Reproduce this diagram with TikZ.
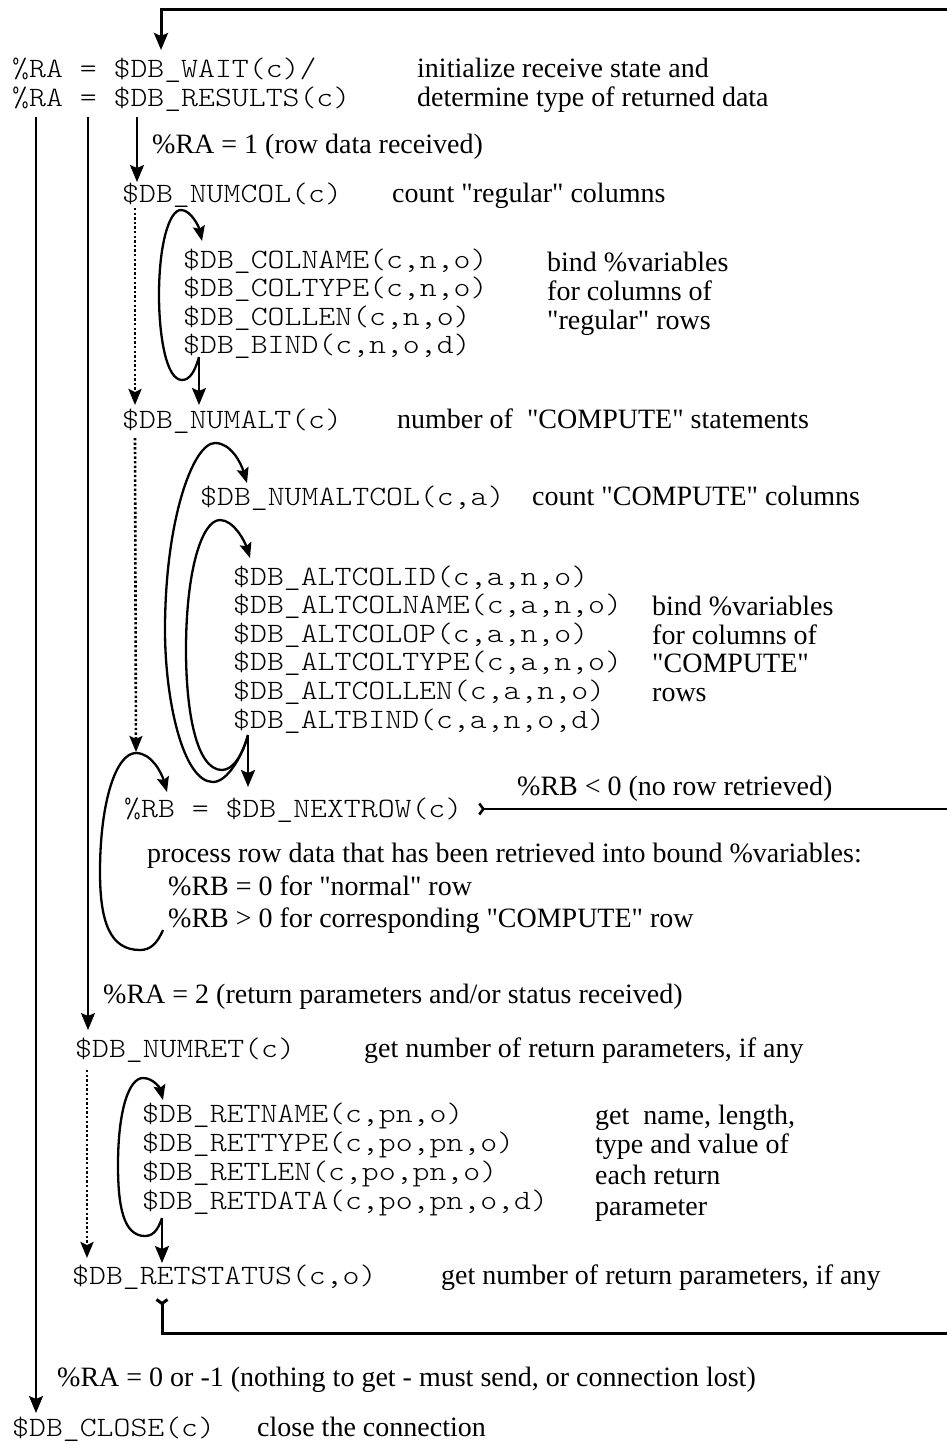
\documentclass[tikz,border=0pt]{standalone}
\usepackage{fontspec}
\newfontfamily\serif{Liberation Serif}
\newfontfamily\monof{lmmonolt10-regular.otf}[FakeStretch=1.15]
\usetikzlibrary{arrows.meta}
\tikzset{
  txt/.style={anchor=base west, inner sep=0pt, font=\serif\fontsize{28}{28}\selectfont},
  code/.style={anchor=base west, inner sep=0pt, font=\monof\fontsize{28}{28}\selectfont},
  flow/.style={line width=2.4pt, -{Stealth[length=17pt,width=14pt,inset=3pt]}},
  lp/.style={line width=2.3pt, -{Stealth[length=15pt,width=12pt,inset=2.5pt]}},
  dots/.style={line width=2.6pt, dash pattern=on 2.4pt off 2.2pt, -{Stealth[length=16pt,width=13pt,inset=3pt]}},
  ret/.style={line width=3pt},
  tail/.style={{Straight Barb[reversed,length=4pt,width=11pt]}-},
}
\begin{document}
\begin{tikzpicture}[x=1pt,y=-1pt]
\path[use as bounding box] (0,0) rectangle (947,1446);

% ---- text nodes
\node[code] (ra1) at (12,77) {\%RA = \$DB\_WAIT(c)/};
\node[code] (ra2) at (12,106) {\%RA = \$DB\_RESULTS(c)};
\node[txt] (d1) at (417,77) {initialize receive state and};
\node[txt] (d2) at (417,106) {determine type of returned data};
\node[txt] (l1) at (152,153) {\%RA = 1 (row data received)};

\node[code] (numcol) at (122,202) {\$DB\_NUMCOL(c)};
\node[txt] (numcold) at (392,202) {count "regular" columns};
\node[code] (colname) at (183,268) {\$DB\_COLNAME(c,n,o)};
\node[code] (coltype) at (183,296) {\$DB\_COLTYPE(c,n,o)};
\node[code] (collen) at (183,325) {\$DB\_COLLEN(c,n,o)};
\node[code] (bind) at (183,353) {\$DB\_BIND(c,n,o,d)};
\node[txt] (cd1) at (547,271) {bind \%variables};
\node[txt] (cd2) at (547,300) {for columns of};
\node[txt] (cd3) at (547,329) {"regular" rows};

\node[code] (numalt) at (122,428) {\$DB\_NUMALT(c)};
\node[txt] (numaltd) at (397,428) {number of\ \ "COMPUTE" statements};
\node[code] (numaltcol) at (200,505) {\$DB\_NUMALTCOL(c,a)};
\node[txt] (numaltcold) at (532,505) {count "COMPUTE" columns};

\node[code] (altid) at (233,585) {\$DB\_ALTCOLID(c,a,n,o)};
\node[code] (altname) at (233,613.6) {\$DB\_ALTCOLNAME(c,a,n,o)};
\node[code] (altop) at (233,642.2) {\$DB\_ALTCOLOP(c,a,n,o)};
\node[code] (alttype) at (233,670.8) {\$DB\_ALTCOLTYPE(c,a,n,o)};
\node[code] (altlen) at (233,699.4) {\$DB\_ALTCOLLEN(c,a,n,o)};
\node[code] (altbind) at (233,728) {\$DB\_ALTBIND(c,a,n,o,d)};
\node[txt] (ad1) at (652,615) {bind \%variables};
\node[txt] (ad2) at (652,644) {for columns of};
\node[txt] (ad3) at (652,672) {"COMPUTE"};
\node[txt] (ad4) at (652,701) {rows};

\node[code] (nextrow) at (124,817) {\%RB = \$DB\_NEXTROW(c)};
\node[txt] (nrlab) at (517,795) {\%RB < 0 (no row retrieved)};
\node[txt] (proc1) at (147,862) {process row data that has been retrieved into bound \%variables:};
\node[txt] (proc2) at (168,895) {\%RB = 0 for "normal" row};
\node[txt] (proc3) at (168,927) {\%RB > 0 for corresponding "COMPUTE" row};

\node[txt] (l2) at (103,1003) {\%RA = 2 (return parameters and/or status received)};
\node[code] (numret) at (75,1057) {\$DB\_NUMRET(c)};
\node[txt] (numretd) at (364,1057) {get number of return parameters, if any};
\node[code] (retname) at (142,1122) {\$DB\_RETNAME(c,pn,o)};
\node[code] (rettype) at (142,1151) {\$DB\_RETTYPE(c,po,pn,o)};
\node[code] (retlen) at (142,1180) {\$DB\_RETLEN(c,po,pn,o)};
\node[code] (retdata) at (142,1209) {\$DB\_RETDATA(c,po,pn,o,d)};
\node[txt] (rd1) at (595,1124) {get\ \ name, length,};
\node[txt] (rd2) at (595,1153) {type and value of};
\node[txt] (rd3) at (595,1184) {each return};
\node[txt] (rd4) at (595,1215) {parameter};

\node[code] (retstatus) at (72,1284) {\$DB\_RETSTATUS(c,o)};
\node[txt] (retstatusd) at (441,1284) {get number of return parameters, if any};
\node[txt] (l3) at (57,1386) {\%RA = 0 or -1 (nothing to get - must send, or connection lost)};
\node[code] (close) at (12,1436) {\$DB\_CLOSE(c)};
\node[txt] (closed) at (257,1436) {close the connection};

% ---- coordinates
\coordinate (topR) at (947,9);
\coordinate (topC) at (161,9);
\coordinate (waitIn) at (161,50);
\coordinate (v1s) at (36,117);   \coordinate (v1e) at (36,1413);
\coordinate (v2s) at (88,117);   \coordinate (v2e) at (88,1030);
\coordinate (v3s) at (137,117);  \coordinate (v3e) at (137,182);
\coordinate (dt1s) at (135,208); \coordinate (dt1e) at (135,405);
\coordinate (dt2s) at (135,438); \coordinate (dt2e) at (136,752);
\coordinate (dt3s) at (87,1070); \coordinate (dt3e) at (87,1258);

% loops
\coordinate (J1) at (199,357); \coordinate (B1) at (182,380); \coordinate (L1) at (159,295);
\coordinate (T1) at (181,210); \coordinate (A1) at (202,241); \coordinate (E1) at (199,405);
\coordinate (J2) at (248,735); \coordinate (B2) at (213,782); \coordinate (L2) at (165,630);
\coordinate (T2) at (215,443); \coordinate (A2) at (247,483); \coordinate (E2) at (248,787);
\coordinate (B3) at (222,770); \coordinate (L3) at (186,650);
\coordinate (T3) at (220,520); \coordinate (A3) at (250,558);
\coordinate (S4) at (163,930); \coordinate (B4) at (140,950); \coordinate (L4) at (100,872);
\coordinate (T4) at (136,753); \coordinate (A4) at (167,792);
\coordinate (J5) at (162,1218); \coordinate (B5) at (145,1236); \coordinate (L5) at (118,1165);
\coordinate (T5) at (143,1078); \coordinate (A5) at (163,1100); \coordinate (E5) at (162,1263);
\coordinate (nrS) at (478,809); \coordinate (nrE) at (947,809);
\coordinate (rsS) at (162,1298); \coordinate (rsC) at (162,1333); \coordinate (rsE) at (947,1333);

% ---- connectors
\draw[ret, -{Stealth[length=17pt,width=14pt,inset=3pt]}] (topR) -- (topC) -- (waitIn);
\draw[flow] (v1s) -- (v1e);
\draw[flow] (v2s) -- (v2e);
\draw[flow] (v3s) -- (v3e);
\draw[dots] (dt1s) -- (dt1e);
\draw[dots] (dt2s) -- (dt2e);
\draw[dots] (dt3s) -- (dt3e);

\draw[lp] (J1) .. controls +(-4,14) and +(8,0) .. (B1)
  .. controls +(-16,0) and +(0,40) .. (L1)
  .. controls +(0,-50) and +(-12,0) .. (T1)
  .. controls +(10,0) and +(-3,-14) .. (A1);
\draw[flow] (J1) -- (E1);

\draw[lp] (J2) .. controls +(-6,22) and +(14,0) .. (B2)
  .. controls +(-30,0) and +(0,70) .. (L2)
  .. controls +(0,-110) and +(-22,0) .. (T2)
  .. controls +(16,0) and +(-6,-20) .. (A2);
\draw[lp] (J2) .. controls +(-5,18) and +(12,0) .. (B3)
  .. controls +(-26,0) and +(0,60) .. (L3)
  .. controls +(0,-80) and +(-18,0) .. (T3)
  .. controls +(14,0) and +(-5,-16) .. (A3);
\draw[flow] (J2) -- (E2);

\draw[lp] (S4) .. controls +(-6,14) and +(10,0) .. (B4)
  .. controls +(-30,0) and +(0,50) .. (L4)
  .. controls +(0,-70) and +(-20,0) .. (T4)
  .. controls +(16,0) and +(-5,-18) .. (A4);

\draw[lp] (J5) .. controls +(-4,12) and +(8,0) .. (B5)
  .. controls +(-22,0) and +(0,40) .. (L5)
  .. controls +(0,-55) and +(-14,0) .. (T5)
  .. controls +(10,0) and +(-3,-12) .. (A5);
\draw[flow] (J5) -- (E5);

\draw[ret, line width=2.6pt, tail] (nrS) -- (nrE);
\draw[ret, tail] (rsS) -- (rsC) -- (rsE);
\end{tikzpicture}
\end{document}
